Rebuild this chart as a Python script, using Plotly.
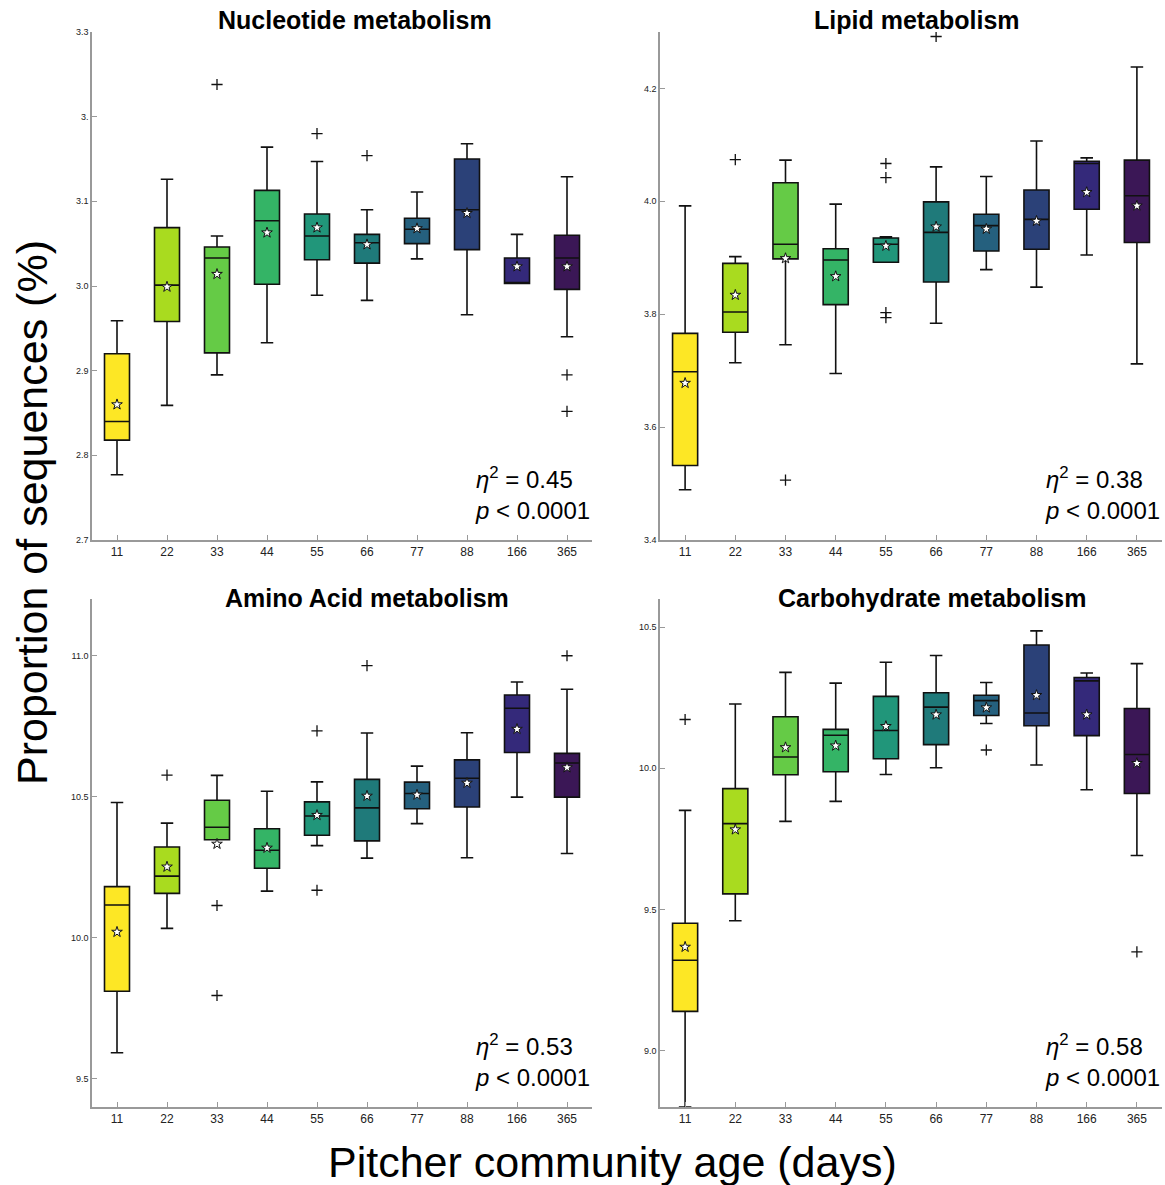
import plotly.graph_objects as go

AGES = ["11", "22", "33", "44", "55", "66", "77", "88", "166", "365"]
COLORS = ["#fde725", "#a9db1f", "#65cb46", "#34b466", "#21967a",
          "#1f7a7a", "#25607e", "#2b4178", "#34297a", "#3b1756"]

# Nucleotide metabolism
NUC_LO = [2.777, 2.859, 2.895, 2.933, 2.989, 2.983, 3.032, 2.966, 3.003, 2.940]
NUC_Q1 = [2.818, 2.958, 2.921, 3.002, 3.031, 3.027, 3.050, 3.043, 3.003, 2.996]
NUC_MED = [2.840, 3.001, 3.033, 3.077, 3.059, 3.051, 3.067, 3.090, 3.004, 3.033]
NUC_Q3 = [2.920, 3.069, 3.046, 3.113, 3.085, 3.061, 3.080, 3.150, 3.033, 3.060]
NUC_HI = [2.959, 3.126, 3.059, 3.164, 3.147, 3.090, 3.111, 3.168, 3.061, 3.129]
NUC_MEAN = [2.860, 2.999, 3.014, 3.063, 3.069, 3.049, 3.068, 3.086, 3.023, 3.023]
NUC_OUT = [[], [], [3.238], [], [3.180], [3.154], [], [], [], [2.895, 2.852]]

# Lipid metabolism
LIP_LO = [3.489, 3.714, 3.746, 3.695, 3.892, 3.784, 3.879, 3.848, 3.905, 3.712]
LIP_Q1 = [3.532, 3.768, 3.898, 3.817, 3.892, 3.857, 3.912, 3.915, 3.986, 3.927]
LIP_MED = [3.698, 3.804, 3.924, 3.896, 3.924, 3.945, 3.957, 3.968, 4.067, 4.010]
LIP_Q3 = [3.766, 3.890, 4.033, 3.916, 3.935, 3.999, 3.977, 4.020, 4.071, 4.073]
LIP_HI = [3.992, 3.902, 4.073, 3.995, 3.937, 4.061, 4.044, 4.107, 4.077, 4.238]
LIP_MEAN = [3.678, 3.834, 3.899, 3.867, 3.921, 3.955, 3.951, 3.965, 4.016, 3.992]
LIP_OUT = [[], [4.074], [3.506], [], [4.067, 4.042, 3.803, 3.794], [4.292], [], [], [], []]

# Amino Acid metabolism
AMI_LO = [9.592, 10.033, 10.347, 10.165, 10.326, 10.282, 10.404, 10.283, 10.498, 10.298]
AMI_Q1 = [9.810, 10.157, 10.347, 10.246, 10.363, 10.343, 10.457, 10.463, 10.656, 10.498]
AMI_MED = [10.116, 10.218, 10.391, 10.310, 10.431, 10.460, 10.511, 10.565, 10.813, 10.619]
AMI_Q3 = [10.181, 10.321, 10.487, 10.386, 10.481, 10.561, 10.551, 10.630, 10.860, 10.653]
AMI_HI = [10.479, 10.406, 10.575, 10.519, 10.552, 10.725, 10.608, 10.726, 10.906, 10.880]
AMI_MEAN = [10.020, 10.251, 10.332, 10.318, 10.434, 10.502, 10.506, 10.548, 10.739, 10.603]
AMI_OUT = [[], [10.576], [10.114, 9.795], [], [10.733, 10.168], [10.964], [], [], [], [10.999]]

# Carbohydrate metabolism
CAR_LO = [8.800, 9.460, 9.812, 9.883, 9.978, 10.002, 10.159, 10.012, 9.924, 9.691]
CAR_Q1 = [9.139, 9.555, 9.977, 9.988, 10.034, 10.084, 10.187, 10.151, 10.116, 9.911]
CAR_MED = [9.320, 9.804, 10.040, 10.117, 10.134, 10.217, 10.240, 10.196, 10.310, 10.049]
CAR_Q3 = [9.451, 9.928, 10.183, 10.138, 10.255, 10.268, 10.259, 10.437, 10.322, 10.212]
CAR_HI = [9.851, 10.228, 10.340, 10.302, 10.376, 10.400, 10.304, 10.487, 10.338, 10.371]
CAR_MEAN = [9.367, 9.783, 10.074, 10.080, 10.149, 10.190, 10.215, 10.259, 10.190, 10.018]
CAR_OUT = [[10.173], [], [], [], [], [], [10.065], [], [], [9.350]]

TITLES = ["Nucleotide metabolism", "Lipid metabolism",
          "Amino Acid metabolism", "Carbohydrate metabolism"]
ETA = ["0.45", "0.38", "0.53", "0.58"]

NUC_TICKVALS = [2.7, 2.8, 2.9, 3.0, 3.1, 3.2, 3.3]
NUC_TICKTEXT = ["2.7", "2.8", "2.9", "3.0", "3.1", "3.", "3.3"]
AMI_TICKVALS = [9.5, 10.0, 10.5, 11.0]
CAR_TICKVALS = [9.0, 9.5, 10.0, 10.5]

panels = [
    (NUC_LO, NUC_Q1, NUC_MED, NUC_Q3, NUC_HI, NUC_MEAN, NUC_OUT),
    (LIP_LO, LIP_Q1, LIP_MED, LIP_Q3, LIP_HI, LIP_MEAN, LIP_OUT),
    (AMI_LO, AMI_Q1, AMI_MED, AMI_Q3, AMI_HI, AMI_MEAN, AMI_OUT),
    (CAR_LO, CAR_Q1, CAR_MED, CAR_Q3, CAR_HI, CAR_MEAN, CAR_OUT),
]
YRANGES = [[2.7, 3.3], [3.4, 4.3], [9.4, 11.2], [8.8, 10.6]]

FW, FH = 1165, 1185


def px(x):
    return x / FW


def py(y):
    return 1 - y / FH


XDOM = [[px(92), px(592)], [px(660), px(1162)], [px(92), px(592)], [px(660), px(1162)]]
YDOM = [[py(540), py(32)], [py(540), py(32)], [py(1107), py(599)], [py(1107), py(599)]]
TITLE_POS = [(355, 20), (917, 20), (367, 598), (932, 598)]

fig = go.Figure()
idx = list(range(len(AGES)))

for p, (lo, q1, med, q3, hi, mean, outs) in enumerate(panels):
    xa = "x" if p == 0 else f"x{p + 1}"
    ya = "y" if p == 0 else f"y{p + 1}"
    for i in idx:
        fig.add_trace(go.Box(
            x=[i], q1=[q1[i]], median=[med[i]], q3=[q3[i]],
            lowerfence=[lo[i]], upperfence=[hi[i]],
            fillcolor=COLORS[i], line=dict(color="#111111", width=1.6),
            width=0.5, whiskerwidth=0.5, boxpoints=False,
            xaxis=xa, yaxis=ya, showlegend=False, hoverinfo="skip"))
    ox, oy = [], []
    for i in idx:
        for v in outs[i]:
            ox.append(i)
            oy.append(v)
    fig.add_trace(go.Scatter(
        x=ox, y=oy, mode="markers", xaxis=xa, yaxis=ya, showlegend=False,
        marker=dict(symbol="cross-thin", size=8, color="#111111",
                    line=dict(color="#111111", width=1.3))))
    fig.add_trace(go.Scatter(
        x=idx, y=mean, mode="markers", xaxis=xa, yaxis=ya, showlegend=False,
        marker=dict(symbol="star", size=8, color="white",
                    line=dict(color="#111111", width=1))))

    xkey = "xaxis" if p == 0 else f"xaxis{p + 1}"
    ykey = "yaxis" if p == 0 else f"yaxis{p + 1}"
    fig.update_layout({
        xkey: dict(domain=XDOM[p], anchor=ya, range=[-0.5, 9.5],
                   tickmode="array", tickvals=idx, ticktext=AGES,
                   ticks="inside", ticklen=5, tickcolor="#999999",
                   showline=True, linecolor="#999999", linewidth=1.5,
                   showgrid=False, zeroline=False, automargin=False,
                   tickfont=dict(family="Liberation Sans, Arial", size=12, color="#222222")),
        ykey: dict(domain=YDOM[p], anchor=xa, range=YRANGES[p],
                   ticks="inside", ticklen=5, tickcolor="#999999",
                   showline=True, linecolor="#999999", linewidth=1.5,
                   showgrid=False, zeroline=False, tickformat=".1f", automargin=False,
                   tickfont=dict(family="Liberation Sans, Arial", size=9, color="#222222")),
    })

    tx, ty = TITLE_POS[p]
    fig.add_annotation(
        text=f"<b>{TITLES[p]}</b>", xref="paper", yref="paper",
        x=px(tx), y=py(ty),
        xanchor="center", yanchor="middle", showarrow=False,
        font=dict(family="Liberation Sans, Arial", size=25, color="#000000"))
    fig.add_annotation(
        text=f"<i>η</i><sup>2</sup> = {ETA[p]}<br><i>p</i> < 0.0001",
        xref="paper", yref="paper", x=XDOM[p][1], y=YDOM[p][0] + 14 / FH,
        xanchor="right", yanchor="bottom", align="left", showarrow=False,
        font=dict(family="Liberation Sans, Arial", size=24, color="#000000"))

fig.update_layout(
    yaxis=dict(tickmode="array", tickvals=NUC_TICKVALS, ticktext=NUC_TICKTEXT),
    yaxis2=dict(dtick=0.2),
    yaxis3=dict(tickmode="array", tickvals=AMI_TICKVALS),
    yaxis4=dict(tickmode="array", tickvals=CAR_TICKVALS),
)

fig.add_annotation(
    text="Proportion of sequences (%)", xref="paper", yref="paper",
    x=px(32), y=py(513), textangle=-90, showarrow=False,
    xanchor="center", yanchor="middle",
    font=dict(family="Liberation Sans, Arial", size=43, color="#000000"))
fig.add_annotation(
    text="Pitcher community age (days)", xref="paper", yref="paper",
    x=px(612), y=py(1162), showarrow=False,
    xanchor="center", yanchor="middle",
    font=dict(family="Liberation Sans, Arial", size=43, color="#000000"))

fig.update_layout(width=FW, height=FH,
                  margin=dict(l=0, r=0, t=0, b=0, pad=0, autoexpand=False),
                  plot_bgcolor="white", paper_bgcolor="white",
                  boxmode="overlay", showlegend=False)

fig.write_html(
    "out.html",
    config={"displayModeBar": False},
    post_script="document.body.style.margin='0';document.body.style.overflow='hidden';")
